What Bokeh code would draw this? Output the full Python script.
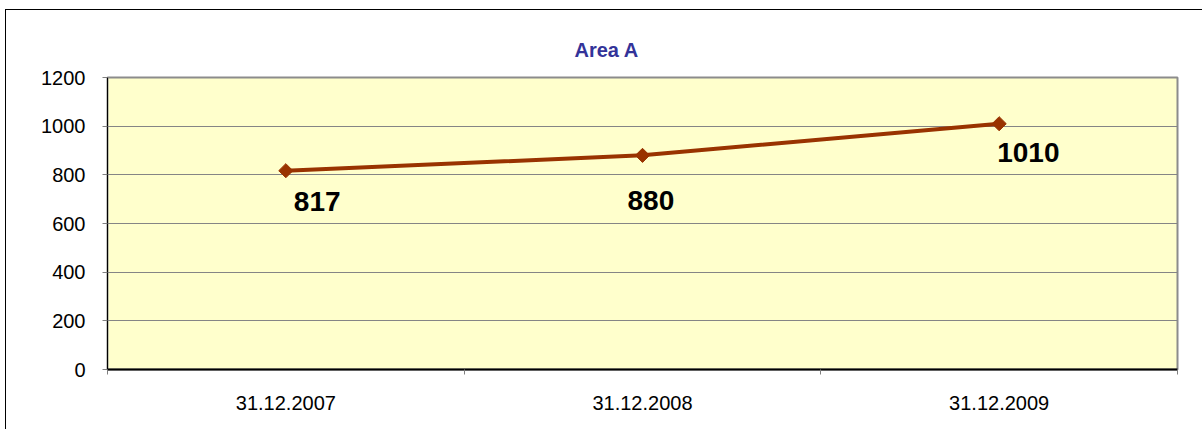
import math
from bokeh.plotting import figure
from bokeh.models import Range1d, FixedTicker, ColumnDataSource, Title
from bokeh.core.properties import value
from bokeh.embed import file_html
from bokeh.resources import INLINE

# ---- data ----
categories = ["31.12.2007", "31.12.2008", "31.12.2009"]
values = [817, 880, 1010]
y_ticks = [0, 200, 400, 600, 800, 1000, 1200]
title_text = "Area A"

# ---- label placement (style, pixels; positive dy = down) ----
label_dx = [8, -15, -2]
label_dy = [31, 45, 29]

FONT = "Liberation Sans"
LINE_COLOR = "#993300"

xs = [i + 0.5 for i in range(len(categories))]

p = figure(
    width=1197, height=420,
    x_range=Range1d(0, len(categories)),
    y_range=Range1d(y_ticks[0], y_ticks[-1]),
    output_backend="svg", toolbar_location=None,
    background_fill_color="#FFFFCC", border_fill_color="white",
    styles={"border-left": "1px solid black", "border-top": "1px solid black",
            "margin-left": "5px", "margin-top": "9px"},
)
p.min_border = 0
p.min_border_left = 101
p.min_border_right = 26
p.min_border_top = 67
p.min_border_bottom = 61

p.outline_line_color = "#8c8c8c"
p.outline_line_width = 2

t = Title(text=title_text, align="left", text_font=FONT, text_font_size="20px",
          text_color="#333399", text_font_style="bold", standoff=34, offset=467)
p.add_layout(t, "above")

# grid
p.xgrid.grid_line_color = None
p.ygrid.grid_line_color = "#858585"
p.ygrid.grid_line_width = 1

# y axis
p.yaxis.ticker = FixedTicker(ticks=y_ticks)
p.yaxis.axis_line_color = "black"
p.yaxis.axis_line_width = 1
p.yaxis.major_tick_out = 5
p.yaxis.major_tick_in = 0
p.yaxis.major_tick_line_color = "#808080"
p.yaxis.minor_tick_line_color = None
p.yaxis.major_label_standoff = 17
p.yaxis.major_label_text_font = FONT
p.yaxis.major_label_text_font_size = "20px"
p.yaxis.major_label_text_color = "black"

# x axis: labels at category centres, ticks at category boundaries
p.xaxis.ticker = FixedTicker(ticks=xs, minor_ticks=list(range(len(categories) + 1)))
p.xaxis.major_label_overrides = {x: c for x, c in zip(xs, categories)}
p.xaxis.axis_line_color = "black"
p.xaxis.axis_line_width = 2
p.xaxis.major_tick_out = 0
p.xaxis.major_tick_in = 0
p.xaxis.minor_tick_out = 5
p.xaxis.minor_tick_in = 0
p.xaxis.minor_tick_line_color = "#808080"
p.xaxis.major_label_standoff = 21
p.xaxis.major_label_text_font = FONT
p.xaxis.major_label_text_font_size = "20px"
p.xaxis.major_label_text_color = "black"

src = ColumnDataSource(dict(
    x=xs, y=values, label=[str(v) for v in values], dx=label_dx, dy=label_dy,
))

p.line("x", "y", source=src, line_color=LINE_COLOR, line_width=4)
p.scatter("x", "y", source=src, marker="square", angle=math.pi / 4, size=10,
          fill_color=LINE_COLOR, line_color=LINE_COLOR)

p.text("x", "y", text="label", source=src, x_offset="dx", y_offset="dy",
       text_font=value(FONT), text_font_size="28px", text_font_style="bold",
       text_color="black", text_align="left", text_baseline="alphabetic")

open("out.html", "w").write(file_html(p, INLINE))
